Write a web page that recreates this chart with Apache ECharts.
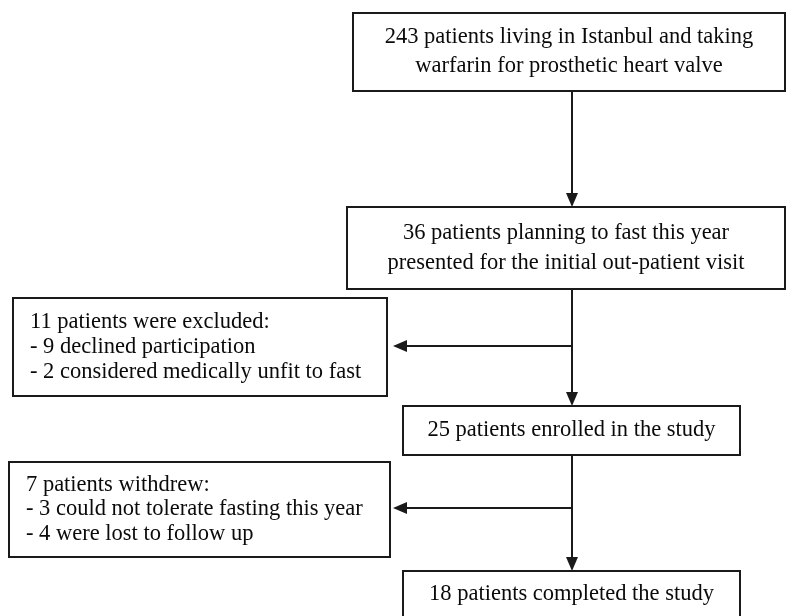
<!DOCTYPE html>
<html>
<head>
<meta charset="utf-8">
<script src="https://cdn.jsdelivr.net/npm/echarts@6/dist/echarts.min.js"></script>
<style>
  html, body { margin: 0; padding: 0; background: #fff; }
  #main { width: 786px; height: 616px; }
</style>
</head>
<body>
<div id="main"></div>
<script>
// flow chart texts (one list per box)
var boxTexts = [
  ['243 patients living in Istanbul and taking', 'warfarin for prosthetic heart valve'],
  ['36 patients planning to fast this year', 'presented for the initial out-patient visit'],
  ['11 patients were excluded:', '- 9 declined participation', '- 2 considered medically unfit to fast'],
  ['25 patients enrolled in the study'],
  ['7 patients withdrew:', '- 3 could not tolerate fasting this year', '- 4 were lost to follow up'],
  ['18 patients completed the study']
];
var patientCounts = [243, 36, 11, 25, 7, 18];

// box geometry [x, y, w, h, align]
var boxLayout = [
  [353, 13, 432, 78, 'center'],
  [347, 207, 438, 82, 'center'],
  [13, 298, 374, 98, 'left'],
  [403, 406, 337, 49, 'center'],
  [9, 462, 381, 95, 'left'],
  [403, 571, 337, 60, 'center']
];
var lineH = [29, 30, 25, 0, 24.5, 0];
var spineX = 572;
var ink = '#1a1a1a';
var font = '22.5px "Liberation Serif", "Times New Roman", serif';

var els = [];

function arrowDown(x, y) {
  els.push({ type: 'polygon', shape: { points: [[x, y], [x - 6, y - 14], [x + 6, y - 14]] }, style: { fill: ink } });
}
function arrowLeft(x, y) {
  els.push({ type: 'polygon', shape: { points: [[x, y], [x + 14, y - 6], [x + 14, y + 6]] }, style: { fill: ink } });
}
function line(x1, y1, x2, y2) {
  els.push({ type: 'line', shape: { x1: x1, y1: y1, x2: x2, y2: y2 }, style: { stroke: ink, lineWidth: 2 } });
}

boxTexts.forEach(function (lines, i) {
  var b = boxLayout[i];
  els.push({ type: 'rect', shape: { x: b[0], y: b[1], width: b[2], height: b[3] },
    style: { fill: '#fff', stroke: ink, lineWidth: 2 } });
  var h = i === 5 ? 46 : b[3];
  var cy = b[1] + h / 2;
  var n = lines.length;
  lines.forEach(function (t, k) {
    var y = cy + (k - (n - 1) / 2) * lineH[i];
    els.push({ type: 'text', style: {
      text: t, font: font, fill: '#0a0a0a',
      x: b[4] === 'center' ? b[0] + b[2] / 2 : b[0] + 17,
      y: y, textAlign: b[4], textVerticalAlign: 'middle'
    } });
  });
});

// connectors
line(spineX, 91, spineX, 195);
arrowDown(spineX, 207);
line(spineX, 289, spineX, 394);
arrowDown(spineX, 406);
line(spineX, 455, spineX, 559);
arrowDown(spineX, 571);
line(spineX, 346, 405, 346);
arrowLeft(393, 346);
line(spineX, 508, 405, 508);
arrowLeft(393, 508);

var chart = echarts.init(document.getElementById('main'));
chart.setOption({
  backgroundColor: '#fff',
  graphic: { elements: els }
});
</script>
</body>
</html>
